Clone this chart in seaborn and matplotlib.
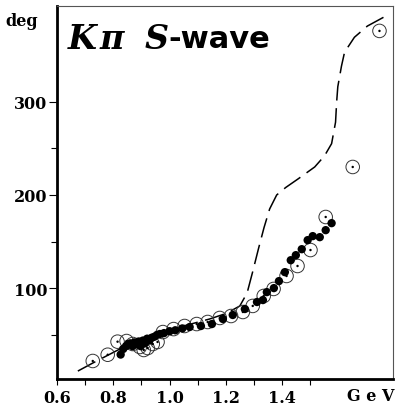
import matplotlib
matplotlib.use("Agg")
import matplotlib.pyplot as plt
import seaborn as sns
from matplotlib.ticker import FixedLocator

# data (mass in GeV, phase in degrees)
curve_m = [0.674, 0.727, 0.823, 0.929, 1.036, 1.142, 1.200, 1.249, 1.275, 1.295,
           1.315, 1.335, 1.355, 1.380, 1.412, 1.455, 1.515, 1.550, 1.575, 1.589,
           1.593, 1.597, 1.610, 1.621, 1.656, 1.702, 1.763]
curve_phase = [11.3, 19.9, 34.9, 47.8, 58.5, 67.1, 73.0, 81.0, 95.0, 118.0,
               142.0, 165.0, 185.0, 200.0, 208.0, 217.0, 230.0, 242.0, 255.0, 278.0,
               300.0, 316.0, 338.0, 353.0, 369.0, 381.0, 391.0]

dots_m = [0.826, 0.835, 0.845, 0.852, 0.860, 0.868, 0.875, 0.882, 0.890, 0.897,
          0.905, 0.912, 0.920, 0.928, 0.936, 0.945, 0.955, 0.965, 0.980, 1.000,
          1.020, 1.045, 1.071, 1.111, 1.150, 1.189, 1.224, 1.267, 1.310, 1.331,
          1.345, 1.370, 1.388, 1.409, 1.430, 1.448, 1.469, 1.490, 1.508, 1.533,
          1.554, 1.575]
dots_phase = [29, 35, 38, 40, 41, 38, 42, 40, 43, 38,
              44, 41, 46, 44, 47, 48, 50, 51, 52, 54,
              55, 57, 58.5, 59.6, 61.7, 67.1, 71.4, 77.8, 85.3, 87.4,
              95.9, 100.2, 107.7, 117.3, 130.1, 135.5, 141.9, 151.6, 155.9, 154.8,
              162.3, 169.8]

open_m = [0.727, 0.780, 0.815, 0.847, 0.869, 0.894, 0.908, 0.922, 0.940, 0.957,
          0.976, 1.014, 1.053, 1.096, 1.135, 1.178, 1.218, 1.260, 1.295, 1.334,
          1.369, 1.415, 1.454, 1.500, 1.554, 1.650, 1.745]
open_phase = [22.1, 28.8, 42.8, 43.5, 40.3, 37.1, 33.9, 36.0, 40.3, 42.5,
              53.1, 56.3, 59.6, 61.7, 63.9, 68.2, 70.3, 74.6, 81.1, 91.8,
              99.3, 113.2, 123.9, 141.0, 176.4, 230.0, 375.8]

x_ticks = [0.6, 0.8, 1.0, 1.2, 1.4]
x_labels = ["0.6", "0.8", "1.0", "1.2", "1.4"]
y_ticks = [100, 200, 300]
y_labels = ["100", "200", "300"]

sns.set_style("ticks")
plt.rcParams.update({"text.color": "black", "xtick.color": "black",
                     "ytick.color": "black", "axes.labelcolor": "black"})
lab = dict(family="DejaVu Serif", fontweight="bold", fontsize=11.5, color="black")

fig = plt.figure(figsize=(3.96, 4.10), dpi=100)
ax = fig.add_axes([57 / 396, 1 - 380 / 410, 336 / 396, 373 / 410])

sns.lineplot(x=curve_m, y=curve_phase, ax=ax, sort=False, estimator=None,
             color="black", linewidth=1.1, dashes=False)
ax.lines[-1].set_dashes((13, 5))

sns.scatterplot(x=open_m, y=open_phase, ax=ax, s=95, marker="o",
                facecolor="none", edgecolor="#333333", linewidth=0.7, zorder=3)
sns.scatterplot(x=open_m, y=open_phase, ax=ax, s=3, color="black",
                edgecolor="none", zorder=4)
sns.scatterplot(x=dots_m, y=dots_phase, ax=ax, s=36, color="black",
                edgecolor="none", zorder=5)

ax.set_xlim(0.6, 1.793)
ax.set_ylim(2.8, 402.5)

ax.xaxis.set_major_locator(FixedLocator(x_ticks))
ax.xaxis.set_minor_locator(FixedLocator([0.7, 0.9, 1.1, 1.3, 1.5]))
ax.yaxis.set_major_locator(FixedLocator(y_ticks))
ax.yaxis.set_minor_locator(FixedLocator([50, 150, 250]))
ax.set_xticklabels(x_labels, **lab)
ax.set_yticklabels(y_labels, **lab)
ax.tick_params(which="both", direction="out", width=0.8, color="black")
ax.tick_params(axis="x", which="both", length=4.5, pad=3)
ax.tick_params(axis="y", which="major", length=6, pad=1)
ax.tick_params(axis="y", which="minor", length=4)

for side in ["left", "bottom"]:
    ax.spines[side].set_linewidth(2.0)
    ax.spines[side].set_color("black")
for side in ["top", "right"]:
    ax.spines[side].set_visible(True)
    ax.spines[side].set_linewidth(0.8)
    ax.spines[side].set_color("#555555")

ax.set_xlabel("")
ax.set_ylabel("")

fig.text(22 / 396, 1 - 22 / 410, "deg", ha="center", va="center", **lab)
fig.text(371 / 396, 1 - 397 / 410, "G e V", ha="center", va="center", **lab)

title_y = 0.912
ttl = dict(transform=ax.transAxes, fontsize=24, fontweight="bold", color="black",
           va="center")
ax.text(0.033, title_y, "K", fontstyle="italic", family="DejaVu Serif", **ttl)
ax.text(0.128, title_y, "π", fontstyle="italic", family="DejaVu Serif", **ttl)
ax.text(0.262, title_y, "S", fontstyle="italic", family="DejaVu Serif", **ttl)
ttl["fontsize"] = 22
ax.text(0.332, title_y, "-wave", family="DejaVu Sans", **ttl)

fig.savefig("out.png", dpi=100)
